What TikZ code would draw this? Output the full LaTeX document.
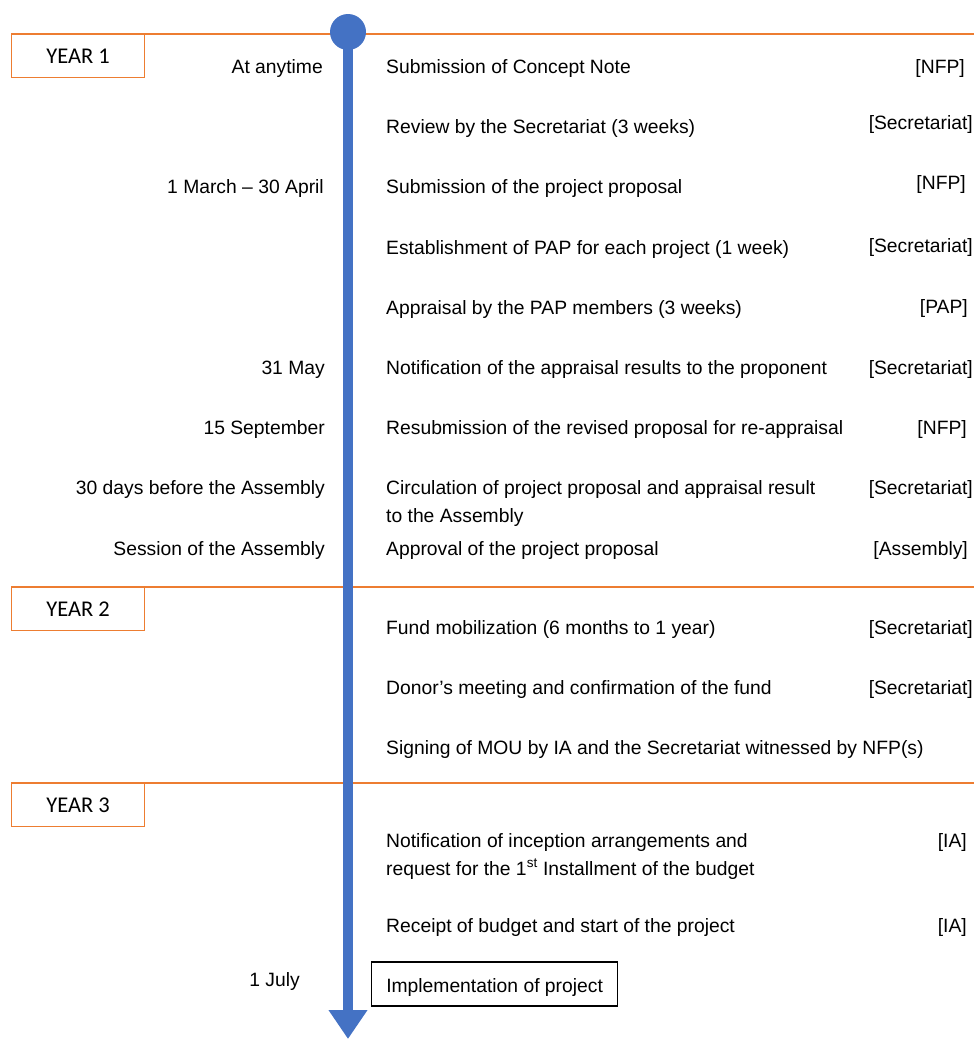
\documentclass[tikz,border=0pt]{standalone}
\usepackage{fontspec}
\setmainfont{Liberation Sans}
\newfontfamily\yearfont{Carlito}
\usetikzlibrary{arrows.meta}
\definecolor{orng}{HTML}{ED7D31}
\definecolor{blu}{HTML}{4472C4}
\begin{document}
\begin{tikzpicture}[x=1pt,y=-1pt,
  every node/.style={inner sep=0pt, font=\fontsize{19.3}{28}\selectfont},
  item/.style={anchor=base west, align=left},
  when/.style={anchor=base east},
  who/.style={anchor=base east},
  yearbox/.style={draw=orng, line width=1.3pt, minimum width=133pt, minimum height=43pt, anchor=north west, font=\yearfont\fontsize{22.5}{26}\selectfont},
  sep/.style={draw=orng, line width=1.5pt},
  finalbox/.style={draw=black, line width=1.2pt, anchor=west, minimum width=246pt, minimum height=44pt, text height=20pt, text depth=4pt},
  timeline/.style={draw=blu, line width=10pt, -{Triangle[width=37pt,length=29pt]}},
  dot/.style={circle, fill=blu, minimum size=36pt}
]
\useasboundingbox (0,0) rectangle (974,1039);

% year boxes and separators
\node[yearbox] (y1) at (11,34) {YEAR 1};
\node[yearbox] (y2) at (11,587) {YEAR 2};
\node[yearbox] (y3) at (11,783) {YEAR 3};
\draw[sep] (y1.north west) -- ++(963,0);
\draw[sep] (y2.north west) -- ++(963,0);
\draw[sep] (y3.north west) -- ++(963,0);

% timeline
\node[dot] (start) at (348,32) {};
\coordinate (tend) at (348,1039);
\draw[timeline] (start.center) -- (tend);

% left labels
\node[when] (w1) at (323,73) {At anytime};
\node[when] (w3) at (324,193) {1 March -- 30 April};
\node[when] (w6) at (325,374) {31 May};
\node[when] (w7) at (325,434) {15 September};
\node[when] (w8) at (325,494) {30 days before the Assembly};
\node[when] (w9) at (325,555) {Session of the Assembly};
\node[when] (w15) at (300,986) {1 July};

% activities
\node[item] (a1) at (386,73) {Submission of Concept Note};
\node[item] (a2) at (386,133) {Review by the Secretariat (3 weeks)};
\node[item] (a3) at (386,193) {Submission of the project proposal};
\node[item] (a4) at (386,254) {Establishment of PAP for each project (1 week)};
\node[item] (a5) at (386,314) {Appraisal by the PAP members (3 weeks)};
\node[item] (a6) at (386,374) {Notification of the appraisal results to the proponent};
\node[item] (a7) at (386,434) {Resubmission of the revised proposal for re-appraisal};
\node[item] (a8) at (386,522) {Circulation of project proposal and appraisal result\\to the Assembly};
\node[item] (a9) at (386,555) {Approval of the project proposal};
\node[item] (a10) at (386,634) {Fund mobilization (6 months to 1 year)};
\node[item] (a11) at (386,694) {Donor’s meeting and confirmation of the fund};
\node[item] (a12) at (386,754) {Signing of MOU by IA and the Secretariat witnessed by NFP(s)};
\node[item] (a13) at (386,875) {Notification of inception arrangements and\\request for the 1\textsuperscript{st} Installment of the budget};
\node[item] (a14) at (386,932) {Receipt of budget and start of the project};
\node[finalbox] (a15) at (371,984) {Implementation of project};

% responsible parties
\node[who] (r1) at (965,73) {[NFP]};
\node[who] (r2) at (973,129) {[Secretariat]};
\node[who] (r3) at (966,189) {[NFP]};
\node[who] (r4) at (973,252) {[Secretariat]};
\node[who] (r5) at (968,313) {[PAP]};
\node[who] (r6) at (973,374) {[Secretariat]};
\node[who] (r7) at (967,434) {[NFP]};
\node[who] (r8) at (973,494) {[Secretariat]};
\node[who] (r9) at (968,555) {[Assembly]};
\node[who] (r10) at (973,634) {[Secretariat]};
\node[who] (r11) at (973,694) {[Secretariat]};
\node[who] (r13) at (967,847) {[IA]};
\node[who] (r14) at (967,932) {[IA]};
\end{tikzpicture}
\end{document}
